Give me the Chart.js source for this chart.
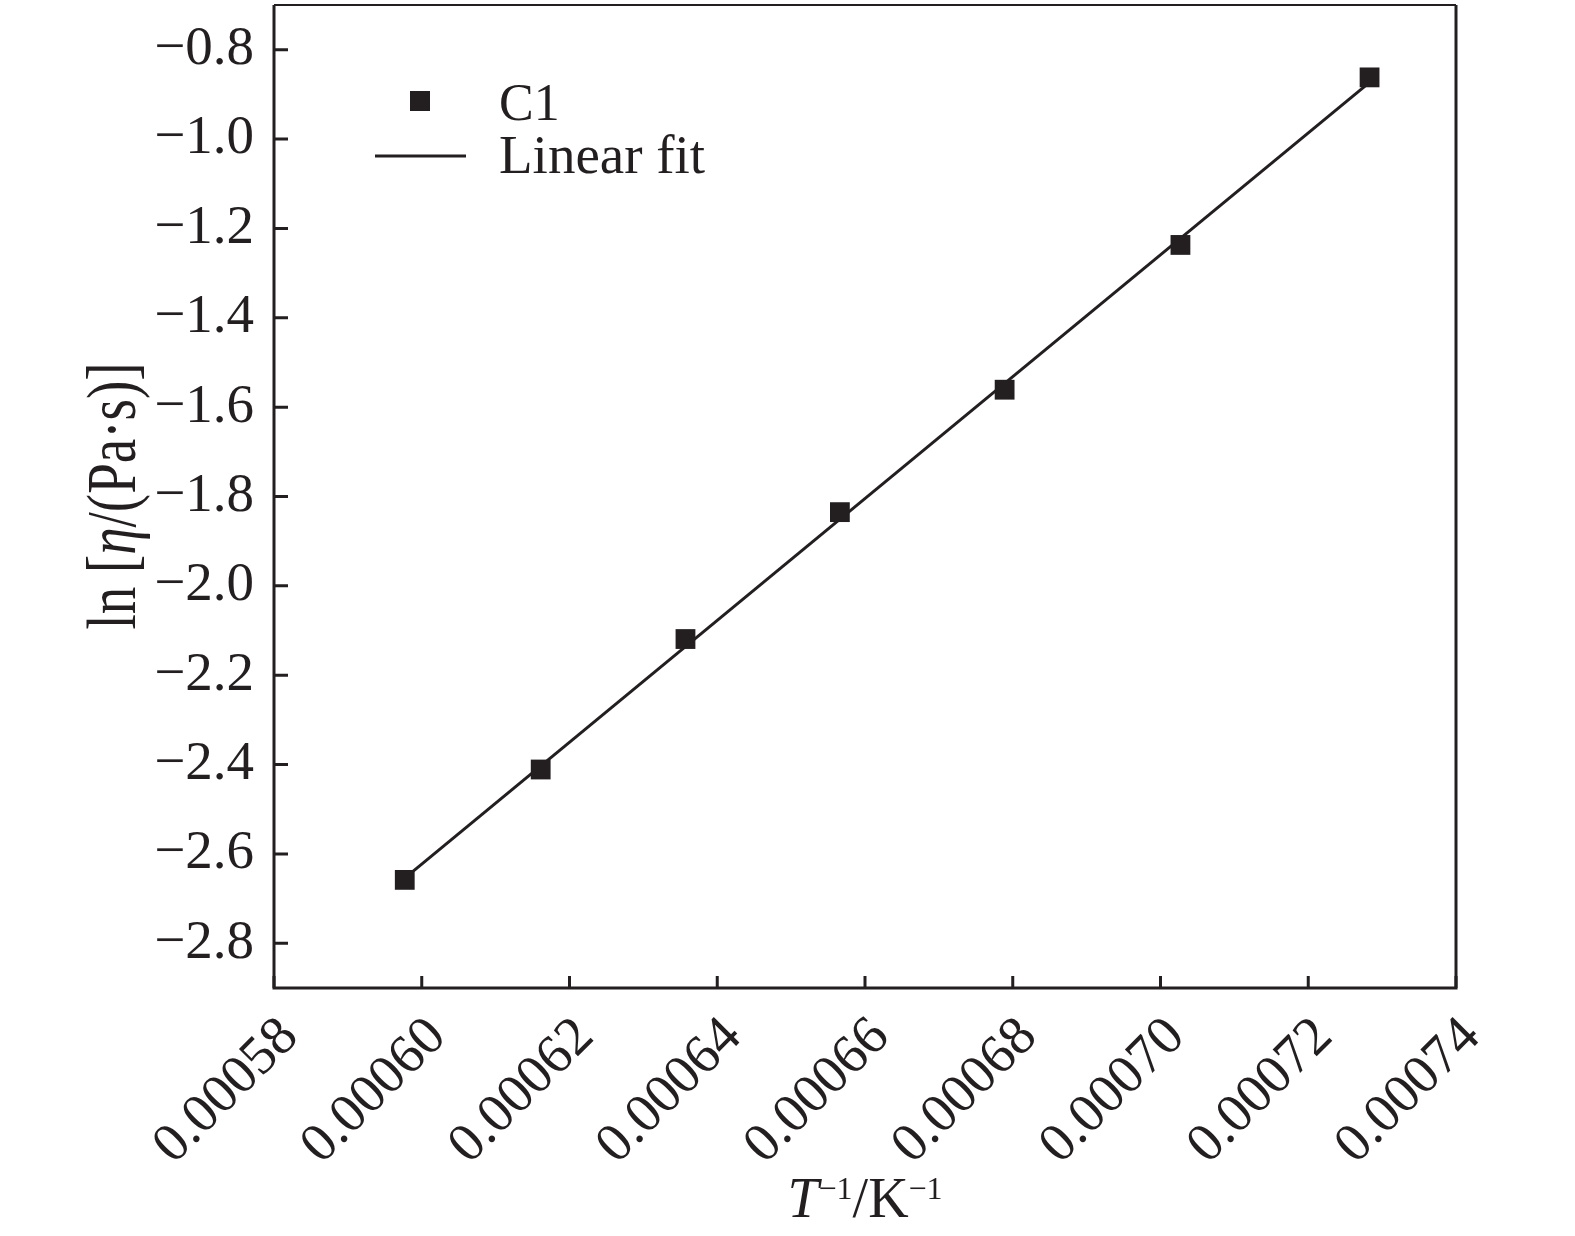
<!DOCTYPE html>
<html>
<head>
<meta charset="utf-8">
<script src="https://cdn.jsdelivr.net/npm/chart.js@4.4.1/dist/chart.umd.min.js"></script>
<style>
  body { margin: 0; background: #fff; }
  #wrap { width: 1575px; height: 1236px; }
</style>
</head>
<body>
<div id="wrap"><canvas id="chart" width="1575" height="1236"></canvas></div>
<script>
'use strict';

// values

let invTemp = [0.0005977, 0.0006161, 0.0006357, 0.0006566, 0.0006789, 0.0007027, 0.0007283];
let lnEta = [-2.658, -2.411, -2.119, -1.835, -1.561, -1.237, -0.862];

// linear fit end points
let fitX = [0.0005977, 0.0007283];
let fitY = [-2.654, -0.873];

let xTicks = [0.00058, 0.00060, 0.00062, 0.00064, 0.00066, 0.00068, 0.00070, 0.00072, 0.00074];
let yTicks = [-2.8, -2.6, -2.4, -2.2, -2.0, -1.8, -1.6, -1.4, -1.2, -1.0, -0.8];

let ink = '#231f20';
let serif = '"Liberation Serif", "Times New Roman", serif';

let canvasElem = document.getElementById('chart');

// the big square markers would otherwise push the plot area down
Chart.registry.getController('scatter').prototype.getMaxOverflow = function () {
  return 0;
};

// helpers

function toMinus(str) {
  return str.replace('-', '\u2212');
}

// draw pieces of text in a row, centered on cx
function drawRuns(ctx, runs, cx, y) {
  let total = 0;
  for (let i = 0; i < runs.length; i++) {
    ctx.font = runs[i].font;
    runs[i].w = ctx.measureText(runs[i].text).width;
    total += runs[i].w;
  }
  let x = cx - total / 2;
  for (let i = 0; i < runs.length; i++) {
    ctx.font = runs[i].font;
    ctx.fillText(runs[i].text, x, y + (runs[i].dy || 0));
    x += runs[i].w;
  }
}

// box, inward ticks, legend and axis titles
let decorPlugin = {
  id: 'decor',
  afterDatasetsDraw(chart) {
    let ctx = chart.ctx;
    let area = chart.chartArea;
    let xScale = chart.scales.x;
    let yScale = chart.scales.y;

    ctx.save();
    ctx.strokeStyle = ink;
    ctx.fillStyle = ink;
    ctx.lineWidth = 3;

    ctx.beginPath();
    for (let i = 0; i < xTicks.length; i++) {
      let px = xScale.getPixelForValue(xTicks[i]);
      ctx.moveTo(px, area.bottom);
      ctx.lineTo(px, area.bottom - 12);
    }
    for (let i = 0; i < yTicks.length; i++) {
      let py = yScale.getPixelForValue(yTicks[i]);
      ctx.moveTo(area.left, py);
      ctx.lineTo(area.left + 14, py);
    }
    ctx.stroke();

    ctx.beginPath();
    ctx.moveTo(area.left, area.top);
    ctx.lineTo(area.left, area.bottom);
    ctx.lineTo(area.right, area.bottom);
    ctx.lineTo(area.right, area.top);
    ctx.stroke();
    ctx.lineWidth = 2;
    ctx.beginPath();
    ctx.moveTo(area.left, area.top);
    ctx.lineTo(area.right, area.top);
    ctx.stroke();

    // legend
    let ds = chart.data.datasets;
    ctx.fillStyle = ds[0].backgroundColor;
    ctx.fillRect(410, 91, 20, 20);
    ctx.strokeStyle = ds[1].borderColor;
    ctx.lineWidth = 3;
    ctx.beginPath();
    ctx.moveTo(375, 156);
    ctx.lineTo(466, 156);
    ctx.stroke();
    ctx.fillStyle = ink;
    ctx.textBaseline = 'alphabetic';
    ctx.textAlign = 'left';
    ctx.font = '52px ' + serif;
    ctx.fillText(ds[0].label, 499, 120);
    ctx.font = '55px ' + serif;
    ctx.fillText(ds[1].label, 499, 173);

    // x title
    drawRuns(ctx, [
      {text: 'T', font: 'italic 56px ' + serif},
      {text: '\u22121', font: '32px ' + serif, dy: -18},
      {text: '/K', font: '56px ' + serif},
      {text: '\u22121', font: '32px ' + serif, dy: -18}
    ], 865, 1217);

    // y title, glyphs a bit taller across as in the original
    ctx.translate(135, 496);
    ctx.rotate(-Math.PI / 2);
    ctx.scale(1, 1.25);
    drawRuns(ctx, [
      {text: 'ln [', font: '55px ' + serif},
      {text: '\u03b7', font: 'italic 55px ' + serif},
      {text: '/(Pa\u00b7s)]', font: '55px ' + serif}
    ], 0, 0);

    ctx.restore();
  }
};

let chartObj = {
  type: 'scatter',
  data: {
    datasets: [{
      label: 'C1',
      data: invTemp.map((v, i) => ({x: v, y: lnEta[i]})),
      pointStyle: 'rect',
      pointRadius: 14,
      pointBorderWidth: 0,
      backgroundColor: ink,
      borderColor: ink
    },
    {
      label: 'Linear fit',
      data: fitX.map((v, i) => ({x: v, y: fitY[i]})),
      showLine: true,
      pointRadius: 0,
      borderWidth: 3,
      borderColor: ink,
      backgroundColor: ink
    }]
  },
  options: {
    responsive: false,
    animation: false,
    layout: {
      padding: {top: 5, right: 119, bottom: 0, left: 0}
    },
    plugins: {
      legend: {display: false},
      tooltip: {enabled: false}
    },
    scales: {
      x: {
        type: 'linear',
        min: 0.00058,
        max: 0.00074,
        grid: {display: false},
        border: {display: false},
        afterBuildTicks: (scale) => {
          scale.ticks = xTicks.map(v => ({value: v}));
        },
        afterFit: (scale) => {
          scale.height = 248;
          scale.paddingLeft = 0;
          scale.paddingRight = 0;
        },
        ticks: {
          autoSkip: false,
          minRotation: 45,
          maxRotation: 45,
          padding: 9,
          labelOffset: 16,
          color: ink,
          font: {family: serif, size: 55},
          callback: (v) => v.toFixed(5)
        }
      },
      y: {
        min: -2.9,
        max: -0.7,
        grid: {display: false},
        border: {display: false},
        afterBuildTicks: (scale) => {
          scale.ticks = yTicks.map(v => ({value: v}));
        },
        afterFit: (scale) => {
          scale.width = 274;
          scale.paddingTop = 0;
          scale.paddingBottom = 0;
        },
        ticks: {
          padding: 12,
          color: ink,
          font: {family: serif, size: 55},
          callback: (v) => toMinus(v.toFixed(1))
        }
      }
    }
  },
  plugins: [decorPlugin]
};

new Chart(canvasElem, chartObj);
</script>
</body>
</html>
